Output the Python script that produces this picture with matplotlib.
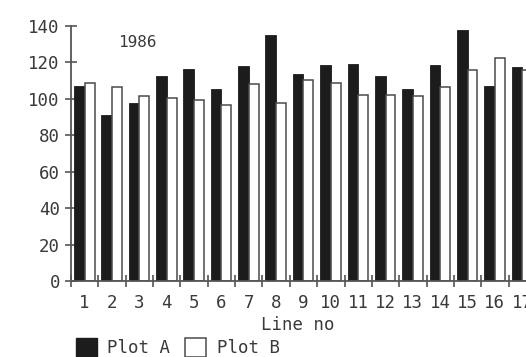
import numpy as np
import matplotlib
matplotlib.use("Agg")
import matplotlib.pyplot as plt
from matplotlib.patches import Rectangle

lines = np.arange(1, 18)
tick_labels = [str(i) for i in lines]
plot_a = [107.3, 91.0, 97.8, 112.8, 116.5, 105.5, 118.3, 134.8, 113.5, 118.7,
          119.4, 112.3, 105.5, 118.5, 138.0, 106.9, 117.6]
plot_b = [108.8, 106.6, 101.4, 100.7, 99.2, 96.9, 108.2, 97.6, 110.2, 108.8,
          102.0, 102.0, 101.4, 106.6, 115.7, 122.2, 116.1]
yticks = [0, 20, 40, 60, 80, 100, 120, 140]

W, H = 526, 357
fig = plt.figure(figsize=(W / 100, H / 100), dpi=100)
fig.patch.set_facecolor("white")
ax = fig.add_axes([71 / W, (H - 281) / H, (W - 71) / W, (281 - 26) / H])

font = "DejaVu Sans Mono"
tc = "#3a3a3a"
ax.bar(lines, plot_a, width=-0.39, align="edge", color="#1c1c1c",
       edgecolor="#1c1c1c", linewidth=0.6, zorder=2)
ax.bar(lines, plot_b, width=0.36, align="edge", color="white",
       edgecolor="#4a4a4a", linewidth=1.1, zorder=2)

ax.set_ylim(0, 140)
ax.set_xlim(0.5, 0.5 + (W - 71) / 27.35)
for s in ["top", "right"]:
    ax.spines[s].set_visible(False)
for s in ["left", "bottom"]:
    ax.spines[s].set_color("#555555")
    ax.spines[s].set_linewidth(1.3)

ax.set_yticks(yticks)
ax.set_yticklabels([str(v) for v in yticks], fontfamily=font, fontsize=12.5, color=tc)
ax.tick_params(axis="y", direction="inout", length=8, width=1.2, color="#555555", pad=4)

ax.set_xticks(np.arange(0.5, 17.5, 1.0))
ax.set_xticklabels([])
ax.tick_params(axis="x", which="major", direction="inout", length=9, width=1.2, color="#555555")
ax.set_xticks(lines, minor=True)
ax.set_xticklabels(tick_labels, minor=True, fontfamily=font, fontsize=12.5, color=tc)
ax.tick_params(axis="x", which="minor", length=0, pad=9)

ax.text(2.91, 131, "1986", fontfamily=font, fontsize=11.5, color=tc,
        ha="center", va="center")

fig.text(298 / W, 1 - 325 / H, "Line no", fontfamily=font, fontsize=12.5,
         color=tc, ha="center", va="center")

# legend
fig.patches.append(Rectangle((76 / W, 0), 21 / W, (H - 338) / H,
                             transform=fig.transFigure, facecolor="#1c1c1c",
                             edgecolor="#1c1c1c"))
fig.patches.append(Rectangle((185 / W, 0), 21 / W, (H - 338) / H,
                             transform=fig.transFigure, facecolor="white",
                             edgecolor="#4a4a4a", linewidth=1.1))
fig.text(107 / W, 1 - 348 / H, "Plot A", fontfamily=font, fontsize=12.5,
         color=tc, ha="left", va="center")
fig.text(217 / W, 1 - 348 / H, "Plot B", fontfamily=font, fontsize=12.5,
         color=tc, ha="left", va="center")

fig.savefig("out.png", dpi=100)
